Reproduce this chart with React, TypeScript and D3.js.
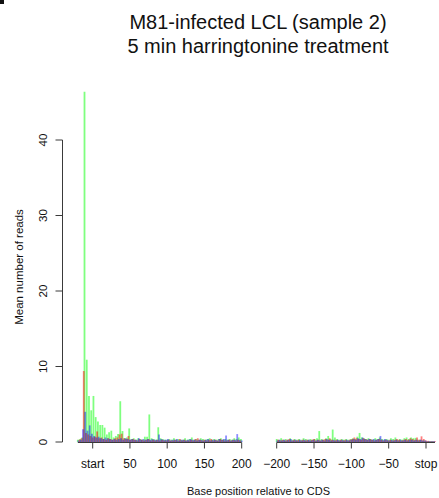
import React from "react";
import * as d3 from "d3";

// ---- data (mean number of reads per position, one array per reading frame) ----
const leftTicks = [0, 50, 100, 150, 200];
const leftTickLabels = ["start", "50", "100", "150", "200"];
const rightTicks = [-200, -150, -100, -50, 0];
const rightTickLabels = ["\u2212200", "\u2212150", "\u2212100", "\u221250", "stop"];
const yTicks = [0, 10, 20, 30, 40];

// left panel (relative to start codon), positions -20..200
const redLeftStart = -18;
const redLeft = [
  0.3, 0.5, 9.4, 1.2, 1.0, 0.8, 0.6, 0.7, 1.4, 0.5,
  0.6, 0.4, 0.3, 0.5, 0.4, 0.3, 0.5, 0.6, 1.0, 1.1,
  0.5, 0.4, 0.8, 0.3, 0.4, 0.3, 0.2, 0.4, 0.3, 0.2,
  0.3, 0.4, 0.2, 0.3, 0.2, 0.3, 0.2, 0.3, 0.2, 0.2,
  0.3, 0.2, 0.2, 0.3, 0.2, 0.4, 0.2, 0.3, 0.2, 0.2,
  0.3, 0.2, 0.4, 0.5, 0.3, 0.2, 0.3, 0.2, 0.3, 0.4,
  0.2, 0.3, 0.2, 0.4, 0.3, 0.2, 0.2, 0.3, 0.2, 0.3,
  0.2, 0.3, 0.2,
];
const greenLeftStart = -20;
const greenLeft = [
  0.3, 0.4, 0.6, 46.4, 10.9, 6.1, 4.2, 6.1, 3.3, 2.7,
  2.25, 2.25, 1.9, 1.0, 1.3, 1.5, 0.6, 0.8, 1.05, 5.4,
  1.45, 0.5, 0.6, 1.8, 0.4, 0.5, 0.3, 0.5, 0.4, 0.3,
  0.7, 0.7, 3.65, 0.5, 0.4, 0.3, 1.95, 0.5, 0.4, 0.3,
  0.3, 0.4, 0.3, 0.5, 0.3, 0.4, 0.3, 0.3, 0.5, 0.3,
  0.4, 0.6, 0.3, 0.4, 0.3, 0.5, 0.4, 0.3, 0.4, 0.5,
  0.3, 0.4, 0.3, 0.4, 0.5, 0.3, 0.4, 0.3, 0.4, 0.3,
  0.5, 0.4, 0.6, 0.4,
];
const blueLeftStart = -19;
const blueLeft = [
  0.2, 0.3, 1.7, 4.0, 1.5, 2.2, 1.1, 0.8, 0.6, 0.7,
  0.5, 0.4, 0.6, 0.5, 0.4, 0.3, 0.4, 0.3, 0.4, 0.5,
  0.3, 0.5, 0.4, 0.3, 0.4, 0.3, 0.3, 0.5, 0.3, 0.4,
  0.3, 0.4, 0.3, 0.4, 0.3, 0.3, 1.0, 0.4, 0.3, 0.3,
  0.4, 0.2, 0.3, 0.3, 0.4, 0.2, 0.3, 0.3, 0.2, 0.3,
  0.4, 0.3, 0.3, 0.2, 0.3, 0.3, 0.2, 0.3, 0.4, 0.2,
  0.3, 0.3, 0.2, 0.4, 0.3, 0.4, 0.85, 0.3, 0.2, 0.3,
  0.3, 1.05, 0.3, 0.2,
];

// right panel (relative to stop codon), positions -200..12
const redRightStart = -198;
const redRight = [
  0.3, 0.2, 0.3, 0.2, 0.3, 0.4, 0.2, 0.3, 0.2, 0.3,
  0.2, 0.3, 0.2, 0.3, 0.2, 0.3, 0.4, 0.2, 0.3, 0.2,
  0.3, 0.4, 0.3, 0.5, 0.3, 0.2, 0.3, 0.2, 0.3, 0.2,
  0.3, 0.2, 0.3, 0.4, 0.6, 0.5, 0.4, 0.3, 0.5, 0.4,
  0.3, 0.4, 0.3, 0.2, 0.3, 0.4, 0.3, 0.2, 0.3, 0.2,
  0.3, 0.2, 0.3, 0.4, 0.3, 0.2, 0.3, 0.4, 0.3, 0.5,
  0.4, 0.3, 0.6, 0.3, 0.75, 0.4, 0.2, 0.15, 0.1, 0.1,
  0.1,
];
const greenRightStart = -200;
const greenRight = [
  0.4, 0.3, 0.5, 0.3, 0.4, 0.3, 0.5, 0.3, 0.4, 0.3,
  0.4, 0.3, 0.5, 0.4, 0.3, 0.4, 0.3, 0.4, 0.5, 1.45,
  0.4, 0.3, 0.5, 0.8, 0.4, 1.65, 0.6, 0.4, 0.3, 0.4,
  0.3, 0.4, 0.3, 0.4, 0.5, 0.4, 0.7, 1.2, 0.6, 0.5,
  0.4, 0.5, 0.4, 0.3, 0.5, 0.4, 0.6, 0.4, 0.3, 0.4,
  0.3, 0.5, 0.4, 0.6, 0.3, 0.4, 0.3, 0.5, 0.6, 0.4,
  0.6, 0.5, 0.55, 0.3, 0.3, 0.2, 0.2, 0.1, 0.1, 0.1,
  0.1,
];
const blueRightStart = -199;
const blueRight = [
  0.2, 0.3, 0.2, 0.3, 0.2, 0.3, 0.4, 0.2, 0.3, 0.2,
  0.3, 0.2, 0.3, 0.2, 0.3, 0.2, 0.3, 0.2, 0.3, 0.2,
  0.3, 0.2, 0.4, 0.3, 0.2, 0.3, 0.2, 0.3, 0.2, 0.3,
  0.2, 0.3, 0.2, 0.3, 0.4, 0.3, 0.5, 0.4, 0.6, 0.4,
  0.3, 0.4, 0.3, 0.4, 0.3, 0.4, 0.8, 0.3, 0.4, 0.3,
  0.2, 0.3, 0.2, 0.3, 0.2, 0.3, 0.2, 0.3, 0.2, 0.3,
  0.3, 0.2, 0.3, 0.2, 0.3, 0.2, 0.2, 0.1, 0.1, 0.1,
  0.1,
];

const leftRange = [-20, 200];
const rightRange = [-200, 12];

const W = 439;
const H = 498;
const FONT = "'Liberation Sans', Arial, Helvetica, sans-serif";
const AXIS = "#3a3a3a";
const RED = "rgba(255,0,0,0.5)";
const GREEN = "rgba(0,255,0,0.5)";
const BLUE = "rgba(0,0,255,0.45)";

export default function App() {
  const y = d3.scaleLinear().domain([0, 40]).range([442, 140]);
  const xL = d3.scaleLinear().domain([0, 200]).range([92.7, 241.7]);
  const xR = d3.scaleLinear().domain([-200, 0]).range([276.7, 426]);

  const series = (vals: number[], start: number, x: d3.ScaleLinear<number, number>, color: string, key: string) =>
    vals.map((v, i) => {
      const p = start + 3 * i;
      const px = x(p);
      return (
        <line key={key + i} x1={px} x2={px} y1={y(0)} y2={y(v)} stroke={color} strokeWidth={1.8} />
      );
    });

  const xAxis = (x: d3.ScaleLinear<number, number>, ticks: number[], labels: string[], range: number[], key: string) => (
    <g key={key}>
      <line x1={x(range[0])} x2={x(range[1])} y1={y(0) + 0.5} y2={y(0) + 0.5} stroke={AXIS} strokeWidth={1} />
      {ticks.map((t, i) => (
        <g key={key + t}>
          <line x1={x(t)} x2={x(t)} y1={y(0) + 0.5} y2={y(0) + 6.5} stroke={AXIS} strokeWidth={1} />
          <text x={x(t)} y={467.5} textAnchor="middle" fontSize={12} fontFamily={FONT} fill="#111">
            {labels[i]}
          </text>
        </g>
      ))}
    </g>
  );

  return (
    <svg width={W} height={H} style={{ position: "absolute", left: 0, top: 0, background: "#fff" }}>
      <rect x={0} y={0} width={W} height={H} fill="#fff" />
      <rect x={0} y={0} width={4} height={4} fill="#111" />
      <text x={258} y={28.5} textAnchor="middle" fontSize={20} fontFamily={FONT} fill="#111">
        M81-infected LCL (sample 2)
      </text>
      <text x={258} y={52.5} textAnchor="middle" fontSize={20} fontFamily={FONT} fill="#111">
        5 min harringtonine treatment
      </text>

      {/* y axis */}
      <line x1={62.5} x2={62.5} y1={y(0)} y2={y(40)} stroke={AXIS} strokeWidth={1} />
      {yTicks.map((t) => (
        <g key={"yt" + t}>
          <line x1={55.5} x2={62.5} y1={y(t)} y2={y(t)} stroke={AXIS} strokeWidth={1} />
          <text
            transform={`translate(46.5,${y(t)}) rotate(-90)`}
            textAnchor="middle"
            fontSize={11.5}
            fontFamily={FONT}
            fill="#111"
          >
            {t}
          </text>
        </g>
      ))}
      <text
        transform={`translate(23,267) rotate(-90)`}
        textAnchor="middle"
        fontSize={11.5}
        fontFamily={FONT}
        fill="#111"
      >
        Mean number of reads
      </text>

      {/* bars */}
      {series(greenLeft, greenLeftStart, xL, GREEN, "gl")}
      {series(redLeft, redLeftStart, xL, RED, "rl")}
      {series(blueLeft, blueLeftStart, xL, BLUE, "bl")}
      {series(greenRight, greenRightStart, xR, GREEN, "gr")}
      {series(redRight, redRightStart, xR, RED, "rr")}
      {series(blueRight, blueRightStart, xR, BLUE, "br")}

      {xAxis(xL, leftTicks, leftTickLabels, leftRange, "xl")}
      {xAxis(xR, rightTicks, rightTickLabels, rightRange, "xr")}

      <text x={258.5} y={494.5} textAnchor="middle" fontSize={11} fontFamily={FONT} fill="#111">
        Base position relative to CDS
      </text>
    </svg>
  );
}
